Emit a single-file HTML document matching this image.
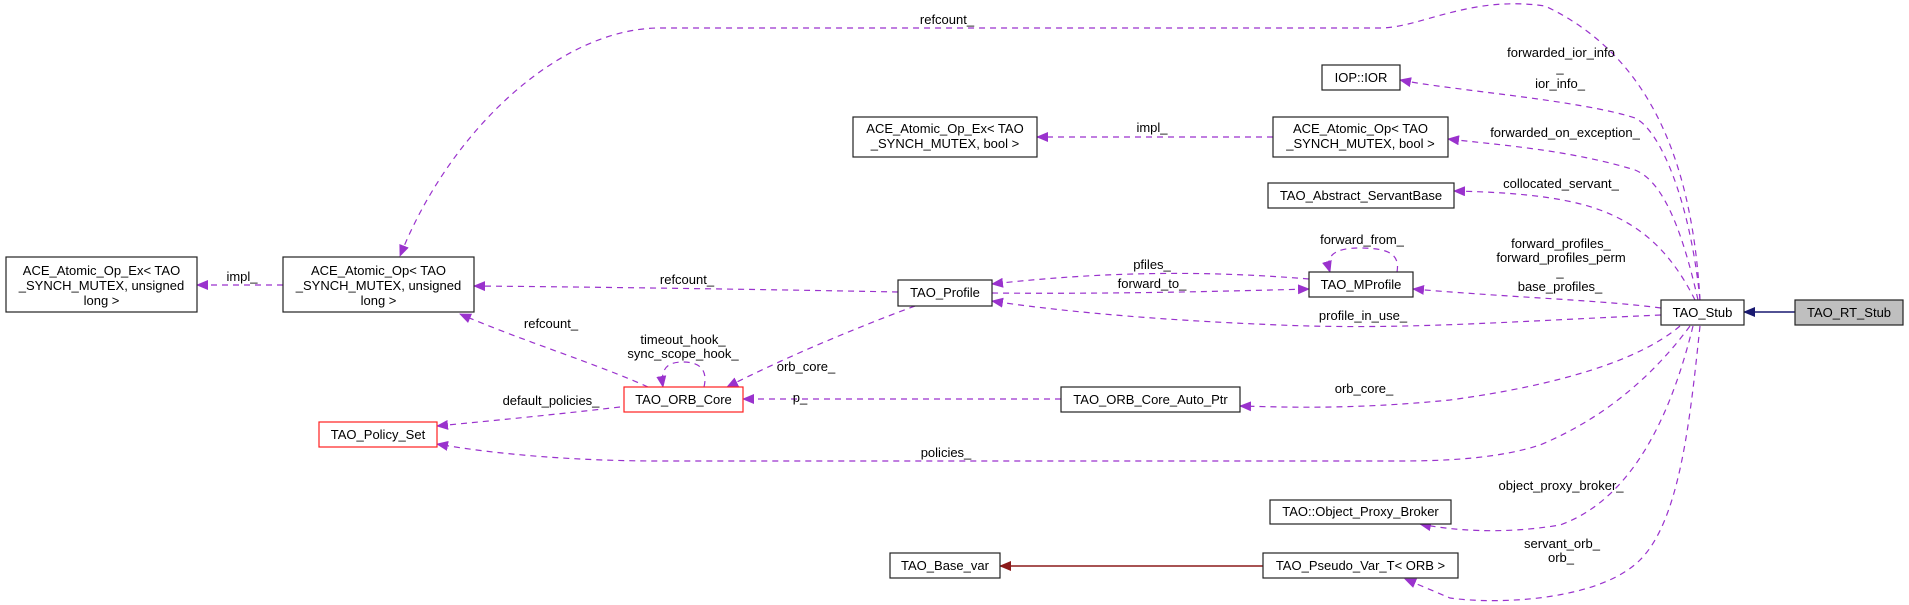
<!DOCTYPE html>
<html><head><meta charset="utf-8"><style>
html,body{margin:0;padding:0;background:#fff;}
svg{display:block;}
text{font-family:"Liberation Sans",Arial,sans-serif;font-size:13px;fill:#000;}
.e{fill:none;stroke:#9a32cd;stroke-width:1.2;stroke-dasharray:6,5;}
.n{fill:#fff;stroke:#222;stroke-width:1.2;}
.r{fill:#fff;stroke:#ff2020;stroke-width:1.2;}
</style></head><body>
<svg width="1909" height="605" viewBox="0 0 1909 605" xmlns="http://www.w3.org/2000/svg">
<defs>
<marker id="ap" markerWidth="12" markerHeight="10" refX="11" refY="5" orient="auto" markerUnits="userSpaceOnUse"><path d="M0,0 L12,5 L0,10 z" fill="#9a32cd"/></marker>
<marker id="ab" markerWidth="12" markerHeight="10" refX="11" refY="5" orient="auto" markerUnits="userSpaceOnUse"><path d="M0,0 L12,5 L0,10 z" fill="#191970"/></marker>
<marker id="ar" markerWidth="12" markerHeight="10" refX="11" refY="5" orient="auto" markerUnits="userSpaceOnUse"><path d="M0,0 L12,5 L0,10 z" fill="#8b1a1a"/></marker>
</defs>

<!-- edges -->
<path class="e" marker-end="url(#ap)" d="M1700,300 C1693,180 1660,60 1545,6 C1470,-5 1420,28 1380,28 L660,28 C560,28 450,130 400,256"/>
<path class="e" marker-end="url(#ap)" d="M1700,300 C1690,200 1660,130 1635,118 C1580,100 1450,90 1400,80"/>
<path class="e" marker-end="url(#ap)" d="M1698,300 C1680,220 1660,180 1635,170 C1570,150 1500,145 1448,139"/>
<path class="e" marker-end="url(#ap)" d="M1695,300 C1670,250 1640,225 1600,210 C1560,195 1500,192 1454,191"/>
<path class="e" marker-end="url(#ap)" d="M1661,308 C1600,300 1520,298 1413,289"/>
<path class="e" marker-end="url(#ap)" d="M1661,315 C1500,322 1400,330 1280,325 C1150,320 1050,310 992,301"/>
<path class="e" marker-end="url(#ap)" d="M1680,326 C1640,360 1560,385 1450,400 C1350,410 1280,407 1240,406"/>
<path class="e" marker-end="url(#ap)" d="M1690,326 C1650,380 1600,420 1540,445 C1500,458 1450,461 1400,461 L660,461 C580,461 500,455 437,444"/>
<path class="e" marker-end="url(#ap)" d="M1693,326 C1670,420 1630,500 1560,525 C1500,535 1450,530 1420,524"/>
<path class="e" marker-end="url(#ap)" d="M1700,326 C1690,420 1680,520 1640,560 C1600,600 1500,605 1450,598 L1405,579"/>
<path class="e" marker-end="url(#ap)" d="M1309,279 C1200,270 1100,272 992,284"/>
<path class="e" marker-end="url(#ap)" d="M992,293 C1100,294 1200,292 1309,289"/>
<path class="e" marker-end="url(#ap)" d="M898,292 C800,290 600,287 474,286"/>
<path class="e" marker-end="url(#ap)" d="M915,306 C850,330 780,360 727,387"/>
<path class="e" marker-end="url(#ap)" d="M1061,399 L743,399"/>
<path class="e" marker-end="url(#ap)" d="M648,387 C600,365 520,340 460,314"/>
<path class="e" marker-end="url(#ap)" d="M620,407 C560,414 500,420 437,426"/>
<path class="e" marker-end="url(#ap)" d="M704,387 C708,370 700,362 683,362 C668,362 660,368 663,387"/>
<path class="e" marker-end="url(#ap)" d="M1397,272 C1400,255 1390,248 1360,248 C1335,248 1325,255 1330,272"/>
<path class="e" marker-end="url(#ap)" d="M283,285 L197,285"/>
<path class="e" marker-end="url(#ap)" d="M1273,137 L1037,137"/>
<path d="M1795,312 L1744,312" stroke="#191970" stroke-width="1.5" fill="none" marker-end="url(#ab)"/>
<path d="M1263,566 L1000,566" stroke="#8b1a1a" stroke-width="1.5" fill="none" marker-end="url(#ar)"/>

<!-- nodes -->
<rect class="n" x="6" y="257" width="191" height="55"/>
<text x="101.5" y="275" text-anchor="middle">ACE_Atomic_Op_Ex&lt; TAO</text>
<text x="101.5" y="290" text-anchor="middle">_SYNCH_MUTEX, unsigned</text>
<text x="101.5" y="305" text-anchor="middle">long &gt;</text>

<rect class="n" x="283" y="257" width="191" height="55"/>
<text x="378.5" y="275" text-anchor="middle">ACE_Atomic_Op&lt; TAO</text>
<text x="378.5" y="290" text-anchor="middle">_SYNCH_MUTEX, unsigned</text>
<text x="378.5" y="305" text-anchor="middle">long &gt;</text>

<rect class="r" x="319" y="422" width="118" height="25"/>
<text x="378" y="439" text-anchor="middle">TAO_Policy_Set</text>

<rect class="r" x="624" y="387" width="119" height="25"/>
<text x="683.5" y="404" text-anchor="middle">TAO_ORB_Core</text>

<rect class="n" x="853" y="117" width="184" height="40"/>
<text x="945" y="133" text-anchor="middle">ACE_Atomic_Op_Ex&lt; TAO</text>
<text x="945" y="148" text-anchor="middle">_SYNCH_MUTEX, bool &gt;</text>

<rect class="n" x="898" y="280" width="94" height="26"/>
<text x="945" y="297" text-anchor="middle">TAO_Profile</text>

<rect class="n" x="1061" y="387" width="179" height="25"/>
<text x="1150.5" y="404" text-anchor="middle">TAO_ORB_Core_Auto_Ptr</text>

<rect class="n" x="890" y="553" width="110" height="25"/>
<text x="945" y="570" text-anchor="middle">TAO_Base_var</text>

<rect class="n" x="1322" y="65" width="78" height="25"/>
<text x="1361" y="82" text-anchor="middle">IOP::IOR</text>

<rect class="n" x="1273" y="117" width="175" height="40"/>
<text x="1360.5" y="133" text-anchor="middle">ACE_Atomic_Op&lt; TAO</text>
<text x="1360.5" y="148" text-anchor="middle">_SYNCH_MUTEX, bool &gt;</text>

<rect class="n" x="1268" y="183" width="186" height="25"/>
<text x="1361" y="200" text-anchor="middle">TAO_Abstract_ServantBase</text>

<rect class="n" x="1309" y="272" width="104" height="25"/>
<text x="1361" y="289" text-anchor="middle">TAO_MProfile</text>

<rect class="n" x="1270" y="500" width="181" height="24"/>
<text x="1360.5" y="516" text-anchor="middle">TAO::Object_Proxy_Broker</text>

<rect class="n" x="1263" y="553" width="195" height="25"/>
<text x="1360.5" y="570" text-anchor="middle">TAO_Pseudo_Var_T&lt; ORB &gt;</text>

<rect class="n" x="1661" y="300" width="83" height="25"/>
<text x="1702.5" y="317" text-anchor="middle">TAO_Stub</text>

<rect x="1795" y="300" width="108" height="25" fill="#bfbfbf" stroke="#222" stroke-width="1.2"/>
<text x="1849" y="317" text-anchor="middle">TAO_RT_Stub</text>

<!-- labels -->
<text x="242" y="281" text-anchor="middle">impl_</text>
<text x="687" y="284" text-anchor="middle">refcount_</text>
<text x="947" y="24" text-anchor="middle">refcount_</text>
<text x="1152" y="132" text-anchor="middle">impl_</text>
<text x="551" y="328" text-anchor="middle">refcount_</text>
<text x="683" y="344" text-anchor="middle">timeout_hook_</text>
<text x="683" y="358" text-anchor="middle">sync_scope_hook_</text>
<text x="551" y="405" text-anchor="middle">default_policies_</text>
<text x="806" y="371" text-anchor="middle">orb_core_</text>
<text x="800" y="402" text-anchor="middle">p_</text>
<text x="946" y="457" text-anchor="middle">policies_</text>
<text x="1152" y="269" text-anchor="middle">pfiles_</text>
<text x="1152" y="288" text-anchor="middle">forward_to_</text>
<text x="1362" y="244" text-anchor="middle">forward_from_</text>
<text x="1561" y="57" text-anchor="middle">forwarded_ior_info</text>
<text x="1560" y="72" text-anchor="middle">_</text>
<text x="1560" y="88" text-anchor="middle">ior_info_</text>
<text x="1565" y="137" text-anchor="middle">forwarded_on_exception_</text>
<text x="1561" y="188" text-anchor="middle">collocated_servant_</text>
<text x="1561" y="248" text-anchor="middle">forward_profiles_</text>
<text x="1561" y="262" text-anchor="middle">forward_profiles_perm</text>
<text x="1560" y="276" text-anchor="middle">_</text>
<text x="1560" y="291" text-anchor="middle">base_profiles_</text>
<text x="1363" y="320" text-anchor="middle">profile_in_use_</text>
<text x="1364" y="393" text-anchor="middle">orb_core_</text>
<text x="1561" y="490" text-anchor="middle">object_proxy_broker_</text>
<text x="1562" y="548" text-anchor="middle">servant_orb_</text>
<text x="1561" y="562" text-anchor="middle">orb_</text>
</svg>
</body></html>
